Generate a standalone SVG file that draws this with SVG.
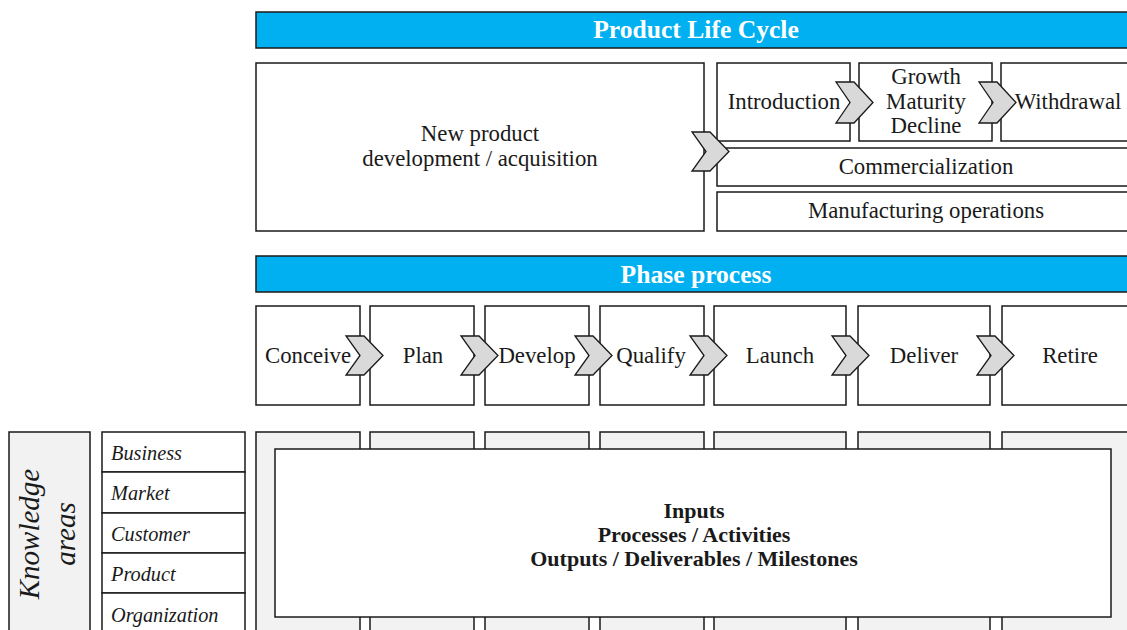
<svg xmlns="http://www.w3.org/2000/svg" width="1127" height="630" viewBox="0 0 1127 630">
<defs>
<style>
.box{fill:#ffffff;stroke:#1a1a1a;stroke-width:1.5}
.gray{fill:#f2f2f2;stroke:#1a1a1a;stroke-width:1.5}
.banner{fill:#00b0f0;stroke:#1a1a1a;stroke-width:1.5}
.chev{fill:#d9d9d9;stroke:#1a1a1a;stroke-width:1.3;stroke-linejoin:miter}
.t{font-family:"Liberation Serif","Times New Roman",serif;font-size:22.8px;fill:#1a1a1a;text-anchor:middle}
.title{font-family:"Liberation Serif","Times New Roman",serif;font-size:25.6px;font-weight:bold;fill:#ffffff;text-anchor:middle}
.b{font-family:"Liberation Serif","Times New Roman",serif;font-size:22px;font-weight:bold;fill:#1a1a1a;text-anchor:middle}
.i{font-family:"Liberation Serif","Times New Roman",serif;font-size:20.3px;font-style:italic;fill:#1a1a1a}
.ka{font-family:"Liberation Serif","Times New Roman",serif;font-size:29px;font-style:italic;fill:#1a1a1a;text-anchor:middle}
</style>
<path id="chevS" d="M0,0 L18,0 L37,19.5 L18,39 L0,39 L14,19.5 Z"/>
<path id="chevT" d="M0,0 L18,0 L37,20.5 L18,41 L0,41 L14,20.5 Z"/>
</defs>

<g id="banner-plc">
<rect class="banner" x="256" y="12" width="880" height="36"/>
<text class="title" x="696" y="38">Product Life Cycle</text>
</g>

<g id="new-product">
<rect class="box" x="256" y="63" width="448" height="168"/>
<text class="t" x="480" y="141">New product</text>
<text class="t" x="480" y="166">development / acquisition</text>
</g>

<g id="introduction">
<rect class="box" x="717" y="63" width="133" height="78"/>
<text class="t" x="784" y="109">Introduction</text>
</g>
<g id="growth">
<rect class="box" x="859" y="63" width="133" height="78"/>
<text class="t" x="926" y="84">Growth</text>
<text class="t" x="926" y="109">Maturity</text>
<text class="t" x="926" y="133">Decline</text>
</g>
<g id="withdrawal">
<rect class="box" x="1001" y="63" width="140" height="78"/>
<text class="t" x="1068" y="109">Withdrawal</text>
</g>
<g id="commercialization">
<rect class="box" x="717" y="148" width="420" height="38"/>
<text class="t" x="926" y="174">Commercialization</text>
</g>
<g id="manufacturing">
<rect class="box" x="717" y="192" width="420" height="39"/>
<text class="t" x="926" y="218">Manufacturing operations</text>
</g>

<g id="banner-phase">
<rect class="banner" x="256" y="256" width="880" height="36"/>
<text class="title" x="696" y="283">Phase process</text>
</g>

<g id="conceive"><rect class="box" x="256" y="306" width="104" height="99"/><text class="t" x="308" y="363">Conceive</text></g>
<g id="plan"><rect class="box" x="370" y="306" width="104" height="99"/><text class="t" x="423" y="363">Plan</text></g>
<g id="develop"><rect class="box" x="485" y="306" width="104" height="99"/><text class="t" x="537" y="363">Develop</text></g>
<g id="qualify"><rect class="box" x="600" y="306" width="104" height="99"/><text class="t" x="651" y="363">Qualify</text></g>
<g id="launch"><rect class="box" x="714" y="306" width="132" height="99"/><text class="t" x="780" y="363">Launch</text></g>
<g id="deliver"><rect class="box" x="858" y="306" width="132" height="99"/><text class="t" x="924" y="363">Deliver</text></g>
<g id="retire"><rect class="box" x="1002" y="306" width="140" height="99"/><text class="t" x="1070" y="363">Retire</text></g>

<g id="knowledge-areas">
<rect class="gray" x="9" y="432" width="81" height="210"/>
<text class="ka" transform="translate(39,534) rotate(-90)">Knowledge</text>
<text class="ka" transform="translate(75,534) rotate(-90)">areas</text>
</g>
<g id="areas-list">
<rect class="box" x="102" y="432" width="143" height="40"/>
<rect class="box" x="102" y="472" width="143" height="41"/>
<rect class="box" x="102" y="513" width="143" height="40"/>
<rect class="box" x="102" y="553" width="143" height="40"/>
<rect class="box" x="102" y="593" width="143" height="50"/>
<text class="i" x="111" y="460">Business</text>
<text class="i" x="111" y="500">Market</text>
<text class="i" x="111" y="541">Customer</text>
<text class="i" x="111" y="581">Product</text>
<text class="i" x="111" y="622">Organization</text>
</g>

<g id="phase-columns">
<rect class="gray" x="256" y="432" width="104" height="210"/>
<rect class="gray" x="370" y="432" width="104" height="210"/>
<rect class="gray" x="485" y="432" width="104" height="210"/>
<rect class="gray" x="600" y="432" width="104" height="210"/>
<rect class="gray" x="714" y="432" width="132" height="210"/>
<rect class="gray" x="858" y="432" width="132" height="210"/>
<rect class="gray" x="1002" y="432" width="140" height="210"/>
</g>

<g id="content">
<rect class="box" x="275" y="449" width="836" height="168"/>
<text class="b" x="694" y="518">Inputs</text>
<text class="b" x="694" y="542">Processes / Activities</text>
<text class="b" x="694" y="566">Outputs / Deliverables / Milestones</text>
</g>

<g id="connectors">
<use href="#chevS" class="chev" x="692" y="132"/>
<use href="#chevT" class="chev" x="836" y="82"/>
<use href="#chevT" class="chev" x="979" y="82"/>
<use href="#chevS" class="chev" x="346" y="336"/>
<use href="#chevS" class="chev" x="461" y="336"/>
<use href="#chevS" class="chev" x="575" y="336"/>
<use href="#chevS" class="chev" x="690" y="336"/>
<use href="#chevS" class="chev" x="832" y="336"/>
<use href="#chevS" class="chev" x="977" y="336"/>
</g>
</svg>
